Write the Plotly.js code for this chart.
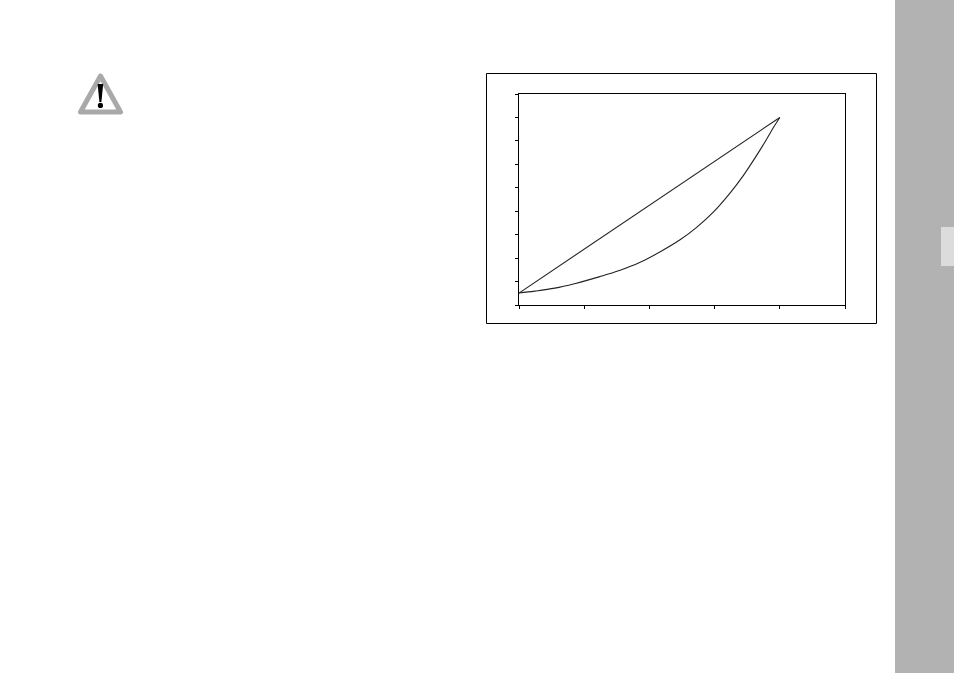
<!DOCTYPE html>
<html><head><meta charset="utf-8">
<script src="https://cdn.plot.ly/plotly-3.0.1.min.js"></script>
<style>html,body{margin:0;padding:0;background:#fff;overflow:hidden}#c{width:954px;height:673px}
.shapelayer path{stroke-linejoin:round}</style>
</head><body><div id="c"></div>
<script>
var upperX = [0, 4];
var upperY = [0.51, 8];
var lowerX = [0, 0.24, 0.55, 0.85, 1.24, 1.54, 1.85, 2.16, 2.47, 2.72, 2.98, 3.23, 3.44, 3.64, 3.8, 3.9, 4];
var lowerY = [0.51, 0.59, 0.72, 0.91, 1.21, 1.47, 1.81, 2.26, 2.78, 3.30, 3.96, 4.75, 5.52, 6.36, 7.08, 7.56, 8];
var xTicks = [0, 1, 2, 3, 4, 5];
var yTicks = [0, 1, 2, 3, 4, 5, 6, 7, 8, 9];

var L = 519, T = 94, PW = 326, PH = 211;
function px(v){ return (v - L) / PW; }
function py(v){ return 1 - (v - T) / PH; }
function rect(x0, y0, x1, y1, fill, line, w){
  return {type:'rect', xref:'paper', yref:'paper', x0:px(x0), x1:px(x1), y0:py(y0), y1:py(y1),
    fillcolor:fill, line:{color:line||fill, width:w===undefined?0:w}, layer:'below'};
}
function poly(pts, fill, line, w){
  var d = pts.map(function(p,i){ return (i?'L':'M') + px(p[0]) + ',' + py(p[1]); }).join(' ') + ' Z';
  return {type:'path', xref:'paper', yref:'paper', path:d, fillcolor:fill,
    line:{color:line||fill, width:w||0}, layer:'above'};
}
var dot = {type:'circle', xref:'paper', yref:'paper', x0:px(97.8), x1:px(103), y0:py(102.8), y1:py(108),
  fillcolor:'#000', line:{width:0}, layer:'above'};
var shapes = [
  rect(895, 0, 954, 673, '#b2b2b2'),
  rect(941, 227, 954, 266, '#dcdcdc'),
  rect(486.5, 73.5, 876.5, 323.5, 'rgba(0,0,0,0)', '#000', 1),
  poly([[100.5,76],[120.5,112],[80.5,112]], '#ffffff', '#a9a9a9', 5),
  poly([[97.6,84],[103.2,84],[101.4,102],[99.4,102]], '#000000'),
  dot
];

var axis = {showgrid:false, zeroline:false, showline:true, mirror:true, linecolor:'#000', linewidth:1,
  ticks:'outside', ticklen:3, tickwidth:1, tickcolor:'#000', showticklabels:false, fixedrange:true};

Plotly.newPlot('c', [
  {x:upperX, y:upperY, mode:'lines', line:{color:'#222', width:1.1}, hoverinfo:'skip', showlegend:false},
  {x:lowerX, y:lowerY, mode:'lines', line:{color:'#222', width:1.1, shape:'spline', smoothing:1}, hoverinfo:'skip', showlegend:false}
], {
  width:954, height:673,
  margin:{l:L, r:954-L-PW, t:T, b:673-T-PH, pad:0},
  paper_bgcolor:'rgba(0,0,0,0)', plot_bgcolor:'rgba(0,0,0,0)',
  xaxis:Object.assign({}, axis, {range:[0,5], tickmode:'array', tickvals:xTicks}),
  yaxis:Object.assign({}, axis, {range:[0,9], tickmode:'array', tickvals:yTicks}),
  shapes:shapes, showlegend:false
}, {displayModeBar:false, staticPlot:true});
</script></body></html>
